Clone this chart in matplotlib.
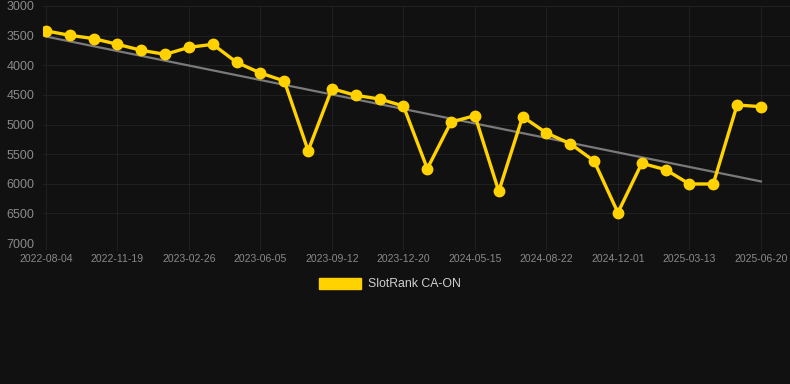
import numpy as np
import matplotlib.pyplot as plt
from matplotlib.patches import Patch

# rank history (lower number = better, axis inverted)
dates = ['2022-08-04', '2022-09-09', '2022-10-14', '2022-11-19', '2022-12-22',
         '2023-01-24', '2023-02-26', '2023-03-31', '2023-05-03', '2023-06-05',
         '2023-07-08', '2023-08-10', '2023-09-12', '2023-10-15', '2023-11-17',
         '2023-12-20', '2024-02-08', '2024-03-27', '2024-05-15', '2024-06-17',
         '2024-07-20', '2024-08-22', '2024-09-25', '2024-10-29', '2024-12-01',
         '2025-01-04', '2025-02-07', '2025-03-13', '2025-04-14', '2025-05-17',
         '2025-06-20']
ranks = [3420, 3495, 3550, 3647, 3748, 3816, 3698, 3647, 3951, 4131,
         4266, 5442, 4395, 4508, 4570, 4688, 5746, 4958, 4851, 6128,
         4868, 5143, 5324, 5616, 6488, 5655, 5762, 6004, 6004, 4671,
         4699]
y_ticks = [3000, 3500, 4000, 4500, 5000, 5500, 6000, 6500, 7000]
series_name = 'SlotRank CA-ON'

bg = '#111111'
gold = '#FFD200'
grid_c = '#202020'
tick_c = '#8a8a8a'

plt.rcParams['font.family'] = ['Liberation Sans', 'DejaVu Sans']

fig = plt.figure(figsize=(7.9, 3.84), dpi=100, facecolor=bg)
ax = fig.add_axes([43 / 790, 1 - 243 / 384, 747 / 790, 237 / 384], facecolor=bg)

x = np.arange(len(dates))
# trend line
m, b = np.polyfit(x, ranks, 1)
ax.plot(x, m * x + b, color='#7a7a7a', lw=1.6, zorder=2)
ax.plot(x, ranks, color=gold, lw=2.4, marker='o', ms=7.5, zorder=3)

ax.set_ylim(7000, 3000)
ax.set_yticks(y_ticks)
ax.set_xlim(-3 / 23.83, 744 / 23.83)
ax.set_xticks(x[::3])
ax.set_xticklabels(dates[::3])

ax.grid(True, color=grid_c, lw=0.8)
for s in ax.spines.values():
    s.set_visible(False)
ax.tick_params(axis='x', colors=grid_c, labelcolor=tick_c, labelsize=7.5, length=5, pad=3)
ax.tick_params(axis='y', colors=grid_c, labelcolor=tick_c, labelsize=9, length=0, pad=6)

fig.legend(handles=[Patch(facecolor=gold, edgecolor=gold, label=series_name)],
           loc='center', bbox_to_anchor=(390 / 790, 1 - 284 / 384), frameon=False,
           fontsize=8.8, labelcolor='#d0d0d0', handlelength=3.4, handleheight=1.0,
           handletextpad=0.55)

fig.savefig('out.png', dpi=100, facecolor=bg)
